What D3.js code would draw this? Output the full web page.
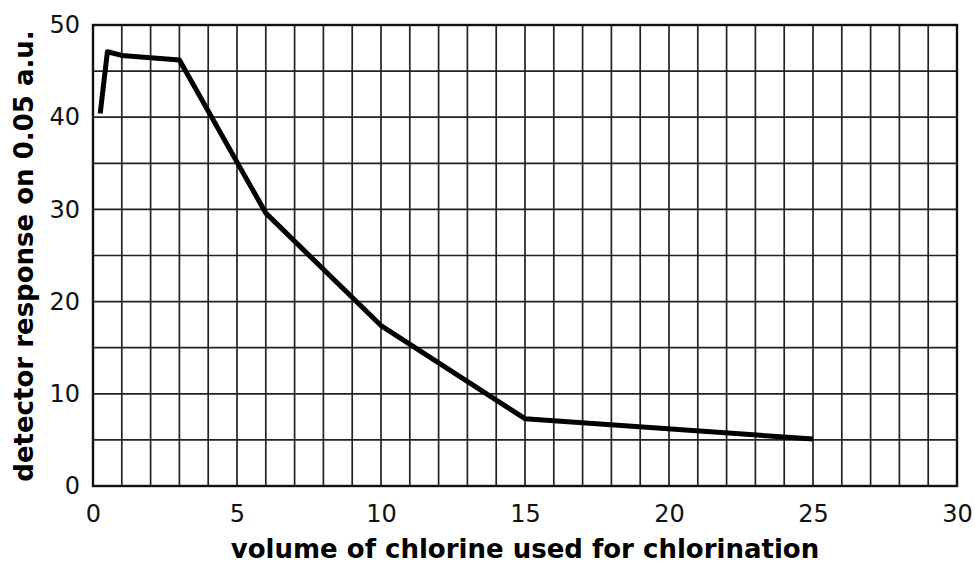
<!DOCTYPE html>
<html><head><meta charset="utf-8">
<script src="https://cdn.jsdelivr.net/npm/d3@7"></script>
<style>body{margin:0;background:#fff}</style>
</head><body>
<svg id="c" width="975" height="566"></svg>
<script>
const volume = [0.25, 0.5, 1, 3, 6, 10, 15, 25];
const response = [40.4, 47.1, 46.7, 46.2, 29.6, 17.4, 7.3, 5.1];
const xTicks = [0, 5, 10, 15, 20, 25, 30];
const yTicks = [0, 10, 20, 30, 40, 50];
const xLabel = "volume of chlorine used for chlorination";
const yLabel = "detector response on 0.05 a.u.";

const svg = d3.select("#c");
const m = {l: 93, r: 957, t: 25, b: 486};
const x = d3.scaleLinear().domain([0, 30]).range([m.l, m.r]);
const y = d3.scaleLinear().domain([0, 50]).range([m.b, m.t]);
const font = "'DejaVu Sans', Verdana, sans-serif";

const g = svg.append("g");
g.selectAll("line.v").data(d3.range(1, 30)).join("line")
  .attr("x1", d => x(d)).attr("x2", d => x(d)).attr("y1", m.t).attr("y2", m.b)
  .attr("stroke", "#222").attr("stroke-width", 1.7);
g.selectAll("line.h").data(d3.range(5, 50, 5)).join("line")
  .attr("x1", m.l).attr("x2", m.r).attr("y1", d => y(d)).attr("y2", d => y(d))
  .attr("stroke", "#222").attr("stroke-width", 1.7);
g.append("rect").attr("x", m.l).attr("y", m.t).attr("width", m.r - m.l).attr("height", m.b - m.t)
  .attr("fill", "none").attr("stroke", "#111").attr("stroke-width", 2.4);

const xa = svg.append("g").attr("transform", `translate(0,${m.b})`)
  .call(d3.axisBottom(x).tickValues(xTicks).tickSize(0).tickPadding(19));
const ya = svg.append("g").attr("transform", `translate(${m.l},0)`)
  .call(d3.axisLeft(y).tickValues(yTicks).tickSize(0).tickPadding(13));
[xa, ya].forEach(a => {
  a.select(".domain").remove();
  a.selectAll("text").attr("font-family", font).attr("font-size", 24).attr("fill", "#111");
});

svg.append("path").datum(volume.map((v, i) => [v, response[i]]))
  .attr("d", d3.line().x(d => x(d[0])).y(d => y(d[1])))
  .attr("fill", "none").attr("stroke", "#000").attr("stroke-width", 5)
  .attr("stroke-linejoin", "round");

svg.append("text").attr("x", 525).attr("y", 558)
  .attr("text-anchor", "middle").attr("font-family", font).attr("font-weight", "bold")
  .attr("font-size", 26).attr("fill", "#000").text(xLabel);
svg.append("text").attr("transform", `translate(33,256) rotate(-90)`)
  .attr("text-anchor", "middle").attr("font-family", font).attr("font-weight", "bold")
  .attr("font-size", 26).attr("fill", "#000").text(yLabel);
</script>
</body></html>
